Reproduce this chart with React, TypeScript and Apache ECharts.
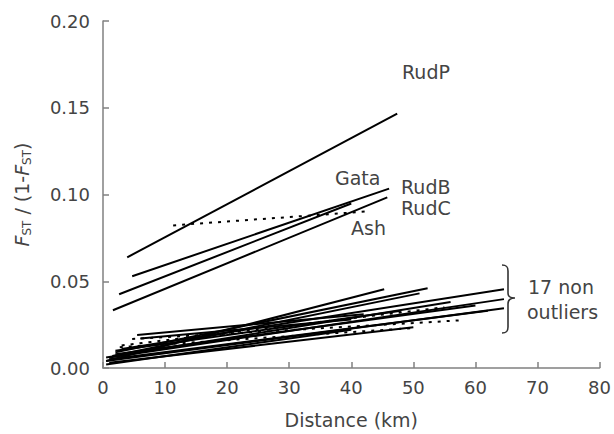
import React, { useEffect, useRef } from "react";
import * as echarts from "echarts";

// Outlier regression lines (Distance km, FST/(1-FST))
const outlierNames = ["RudP", "RudB", "Gata", "RudC", "Ash"];
const outlierX0 = [3.9, 4.7, 2.6, 1.6, 11.3];
const outlierY0 = [0.0638, 0.0529, 0.0425, 0.0333, 0.0822];
const outlierX1 = [47.4, 46.1, 40.0, 45.8, 42.4];
const outlierY1 = [0.1466, 0.1034, 0.0948, 0.0983, 0.0902];
const outlierDotted = [false, false, false, false, true];

// 17 non-outlier regression lines
const nonX0 = [0.5, 2.0, 1.5, 3.0, 1.0, 0.5, 4.7, 2.7, 5.5, 1.0, 2.0, 0.5, 3.0, 1.0, 2.0, 0.5, 6.0];
const nonY0 = [0.004, 0.009, 0.007, 0.011, 0.006, 0.004, 0.0167, 0.012, 0.019, 0.003, 0.008, 0.002, 0.013, 0.005, 0.010, 0.006, 0.017];
const nonX1 = [45.3, 52.3, 51.0, 64.6, 64.6, 64.6, 58.2, 49.8, 42.0, 50.0, 60.0, 40.0, 55.0, 62.0, 48.0, 56.0, 40.0];
const nonY1 = [0.0454, 0.046, 0.043, 0.0454, 0.0397, 0.0345, 0.0276, 0.023, 0.031, 0.0235, 0.036, 0.022, 0.035, 0.033, 0.033, 0.038, 0.028];
const nonDotted = [false, false, false, false, false, false, true, true, false, false, false, false, true, false, false, false, false];

const xTicks = { min: 0, max: 80, interval: 10 };
const yTicks = { min: 0, max: 0.2, interval: 0.05 };

const FONT = "DejaVu Sans";
const TXT = "#444";

let braceRegistered = false;

export default function App() {
  const ref = useRef<HTMLDivElement>(null);
  useEffect(() => {
    document.body.style.margin = "0";
    if (!braceRegistered) {
      const Brace = echarts.graphic.extendPath(
        "M0 0 C5 0 6 2 6 6 L6 28 C6 32 8 33 13 33 C8 33 6 35 6 39 L6 62 C6 66 5 68 0 68",
        {}
      );
      echarts.graphic.registerShape("brace", Brace);
      braceRegistered = true;
    }
    const chart = echarts.init(ref.current!, undefined, { renderer: "svg" });
    const mk = (x0: number, y0: number, x1: number, y1: number, dotted: boolean, name: string) => ({
      type: "line",
      name,
      data: [
        [x0, y0],
        [x1, y1],
      ],
      symbol: "none",
      silent: true,
      lineStyle: { color: "#000", width: 2, type: dotted ? [3, 6] : "solid" },
    });
    const series: any[] = [];
    outlierNames.forEach((n, i) =>
      series.push(mk(outlierX0[i], outlierY0[i], outlierX1[i], outlierY1[i], outlierDotted[i], n))
    );
    nonX0.forEach((_, i) =>
      series.push(mk(nonX0[i], nonY0[i], nonX1[i], nonY1[i], nonDotted[i], "non" + i))
    );
    const txt = (text: string, x: number, y: number) => ({
      type: "text",
      x,
      y,
      style: { text, fill: TXT, font: `19px "${FONT}"`, textVerticalAlign: "middle" },
    });
    chart.setOption({
      animation: false,
      grid: { left: 103, right: 13, top: 21, bottom: 65 },
      xAxis: {
        type: "value",
        ...xTicks,
        name: "Distance (km)",
        nameLocation: "middle",
        nameGap: 42,
        nameTextStyle: { fontFamily: FONT, fontSize: 19, color: TXT },
        axisLine: { lineStyle: { color: "#808080", width: 1.5 } },
        axisTick: { inside: true, length: 6, lineStyle: { color: "#808080", width: 1.5 } },
        axisLabel: { fontFamily: FONT, fontSize: 18, color: TXT, margin: 10 },
        splitLine: { show: false },
      },
      yAxis: {
        type: "value",
        ...yTicks,
        name: "{i|F}{s|ST}{n| / (1-}{i|F}{s|ST}{n|)}",
        nameLocation: "middle",
        nameGap: 70,
        nameRotate: 90,
        nameTextStyle: {
          fontFamily: FONT,
          fontSize: 18,
          color: TXT,
          rich: {
            i: { fontFamily: FONT, fontSize: 19, fontStyle: "italic", color: TXT, lineHeight: 22 },
            s: { fontFamily: FONT, fontSize: 12, color: TXT, verticalAlign: "bottom", lineHeight: 12 },
            n: { fontFamily: FONT, fontSize: 19, color: TXT, lineHeight: 22 },
          },
        },
        axisLine: { show: true, lineStyle: { color: "#808080", width: 1.5 } },
        axisTick: { show: true, inside: true, length: 6, lineStyle: { color: "#808080", width: 1.5 } },
        axisLabel: {
          fontFamily: FONT,
          fontSize: 18,
          color: TXT,
          margin: 13,
          formatter: (v: number) => v.toFixed(2),
        },
        splitLine: { show: false },
      },
      series,
      graphic: [
        txt("RudP", 402, 72),
        txt("Gata", 335, 178),
        txt("RudB", 401, 187),
        txt("RudC", 401, 208),
        txt("Ash", 351, 228),
        txt("17 non", 528, 287),
        txt("outliers", 527, 312),
        {
          type: "brace",
          x: 502,
          y: 265,
          shape: {},
          style: { fill: "none", stroke: "#333", lineWidth: 1.6 },
        },
      ],
    });
    return () => chart.dispose();
  }, []);
  return <div ref={ref} style={{ width: 614, height: 434 }} />;
}
